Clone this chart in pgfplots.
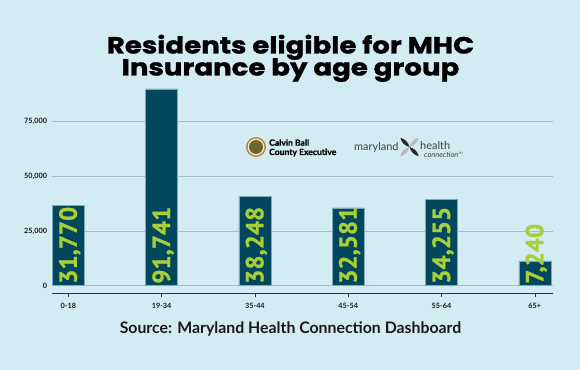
\documentclass[border=0pt]{standalone}
\usepackage{graphicx}
\usepackage{pgfplots}
\pgfplotsset{compat=1.18}
\usepackage{pgfplotstable}
\usepackage{fontspec}
\setmainfont{Lato}
\newfontfamily\titlefont{Poppins}[BoldFeatures={FakeBold=1.2}]
\newfontfamily\valfont{PT Sans}[BoldFeatures={FakeBold=0.8}]
\newfontfamily\logofont{Lato}[BoldFeatures={FakeBold=0.8}]
\definecolor{bg}{RGB}{211,235,243}
\definecolor{barc}{RGB}{3,71,95}
\definecolor{labg}{RGB}{168,207,56}
\definecolor{gridc}{RGB}{160,190,200}
\definecolor{axc}{RGB}{40,55,60}
\definecolor{sealgold}{RGB}{176,140,70}
\definecolor{sealin}{RGB}{120,100,40}
\definecolor{sealgreen}{RGB}{90,110,50}

\pgfplotstableread{
x height ybase label
0 36630 0 31,770
1 90060 0 91,741
2 40930 0 38,248
3 35580 0 32,581
4 39560 0 34,255
5 11310 0 7,240
}\datatable

\begin{document}
\begin{tikzpicture}
\fill[bg] (0bp,0bp) rectangle (580bp,370bp);
\useasboundingbox (0bp,0bp) rectangle (580bp,370bp);
\node[anchor=base, inner sep=0pt] at (290.5bp,316.5bp) {\scalebox{1.18}[1]{\titlefont\bfseries\fontsize{23.5}{23.5}\selectfont Residents eligible for MHC}};
\node[anchor=base, inner sep=0pt] at (290.5bp,294.5bp) {\scalebox{1.18}[1]{\titlefont\bfseries\fontsize{23.5}{23.5}\selectfont Insurance by age group}};
\node[anchor=base, inner sep=0pt, text=black!90] at (290.5bp,36.7bp) {\bfseries\fontsize{15.9}{15.9}\selectfont Source: Maryland Health Connection Dashboard};

\begin{axis}[
  at={(52bp,77bp)}, anchor=south west,
  scale only axis, width=501bp, height=208.4bp,
  xmin=-0.175, xmax=5.195, ymin=-3400, ymax=92000,
  axis x line=bottom, axis y line=left,
  axis line style={-},
  x axis line style={draw=axc, line width=0.8bp},
  y axis line style={draw=none},
  xtick={0,1,2,3,4,5},
  xticklabels={0-18,19-34,35-44,45-54,55-64,65+},
  ytick={0,25000,50000,75000},
  ymajorgrids, grid style={gridc, line width=0.7bp},
  tick align=outside,
  major tick length=4bp,
  xtick style={draw=axc, line width=0.6bp},
  ytick style={draw=none},
  /pgf/number format/assume math mode=true,
  /pgf/number format/1000 sep={,},
  scaled y ticks=false,
  tick label style={font=\bfseries\fontsize{7.3}{7.3}\selectfont, text=black!90},
  xticklabel style={yshift=-3bp},
  yticklabel style={xshift=2.5bp},
  clip=false,
]
\addplot[ybar, bar width=32bp, fill=barc, draw=bg!60!barc, line width=0.3bp] table[x=x, y=height] {\datatable};
\addplot[only marks, mark=none, nodes near coords, point meta=explicit symbolic,
  nodes near coords style={font=\valfont\bfseries\fontsize{25}{25}\selectfont, text=labg, inner sep=0pt, xshift=8.5bp, yshift=1.7bp, rotate=90, anchor=base west}]
  table[x=x, y=ybase, meta=label] {\datatable};
\end{axis}

% logos
\fill[sealgold] (256bp,223bp) circle (10bp);
\fill[white!85!brown] (256bp,223bp) circle (8.3bp);
\fill[sealin] (256bp,223bp) circle (7bp);
\fill[sealgreen] (250bp,220bp) rectangle (262bp,224bp);
\node[anchor=base west, inner sep=0pt] at (269bp,224.3bp) {\logofont\bfseries\fontsize{8.6}{8.6}\selectfont Calvin Ball};
\node[anchor=base west, inner sep=0pt] at (269bp,215bp) {\logofont\bfseries\fontsize{8.6}{8.6}\selectfont County Executive};
\node[anchor=base west, inner sep=0pt, text=black!75] at (354bp,219.5bp) {\fontsize{11}{11}\selectfont maryland};
\begin{scope}[shift={(409.5bp,223bp)}]
\fill[gray!55, rotate=-45] (0,0) .. controls (-2.5bp,4bp) and (-2.5bp,9bp) .. (0,13bp) .. controls (2.5bp,9bp) and (2.5bp,4bp) .. (0,0);
\fill[black!85, rotate=45] (0,0) .. controls (-2.5bp,4bp) and (-2.5bp,9bp) .. (0,13bp) .. controls (2.5bp,9bp) and (2.5bp,4bp) .. (0,0);
\fill[black!85, rotate=-135] (0,0) .. controls (-2.5bp,4bp) and (-2.5bp,9bp) .. (0,13bp) .. controls (2.5bp,9bp) and (2.5bp,4bp) .. (0,0);
\fill[gray!55, rotate=135] (0,0) .. controls (-2.5bp,4bp) and (-2.5bp,9bp) .. (0,13bp) .. controls (2.5bp,9bp) and (2.5bp,4bp) .. (0,0);
\end{scope}
\node[anchor=base west, inner sep=0pt, text=black!75] at (420bp,220.5bp) {\fontsize{11}{11}\selectfont health};
\node[anchor=base west, inner sep=0pt, text=black!75] at (424bp,212bp) {\itshape\fontsize{7.5}{7.5}\selectfont connection\textsuperscript{\fontsize{3}{3}\selectfont TM}};
\end{tikzpicture}
\end{document}
